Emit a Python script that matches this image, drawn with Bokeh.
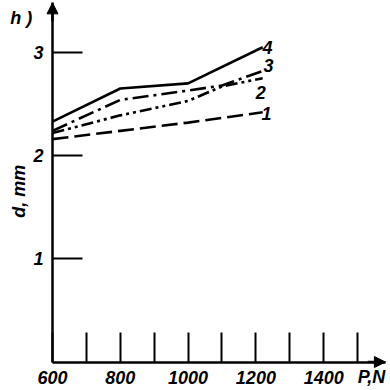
import math
from bokeh.plotting import figure
from bokeh.models import Range1d, FixedTicker, Arrow, NormalHead
from bokeh.core.properties import value
from bokeh.embed import file_html
from bokeh.resources import INLINE

# ---- data ----
p1_x = [600, 800, 1000, 1220]
d1 = [2.16, 2.24, 2.32, 2.42]
p2_x = [600, 800, 1000, 1100, 1220]
d2 = [2.22, 2.39, 2.53, 2.67, 2.75]
p3_x = [600, 800, 1000, 1100, 1220]
d3 = [2.24, 2.54, 2.63, 2.68, 2.82]
p4_x = [600, 800, 1000, 1220]
d4 = [2.33, 2.65, 2.70, 3.05]

curve_labels = ["1", "2", "3", "4"]
x_ticks = [600, 700, 800, 900, 1000, 1100, 1200, 1300, 1400, 1500]
x_tick_labels = {600: "600", 800: "800", 1000: "1000", 1200: "1200", 1400: "1400"}
y_ticks = [1, 2, 3]

FONT = "Liberation Sans"
STYLE = "bold italic"
FS = "18px"

p = figure(width=390, height=390, output_backend="svg", toolbar_location=None,
           x_range=Range1d(446.6, 1597.1), y_range=Range1d(-0.276, 3.503),
           min_border_left=0, min_border_right=0, min_border_top=0, min_border_bottom=0)
p.outline_line_color = None
p.xgrid.visible = False
p.ygrid.visible = False
p.background_fill_color = "white"
p.border_fill_color = "white"

# x axis
xa = p.xaxis[0]
xa.fixed_location = 0
xa.bounds = (600, 1582)
xa.ticker = FixedTicker(ticks=x_ticks)
xa.major_label_overrides = {t: x_tick_labels.get(t, "") for t in x_ticks}
xa.major_tick_in = 30
xa.major_tick_out = 0
xa.minor_tick_line_color = None
xa.axis_line_width = 2.5
xa.major_tick_line_width = 2
xa.major_label_standoff = 9
xa.major_label_text_font = FONT
xa.major_label_text_font_style = STYLE
xa.major_label_text_font_size = FS
xa.major_label_text_color = "black"

# y axis
ya = p.yaxis[0]
ya.fixed_location = 600
ya.bounds = (0, 3.48)
ya.ticker = FixedTicker(ticks=y_ticks)
ya.major_tick_in = 30
ya.major_tick_out = 0
ya.minor_tick_line_color = None
ya.axis_line_width = 2.5
ya.major_tick_line_width = 2
ya.major_label_standoff = 9
ya.major_label_text_font = FONT
ya.major_label_text_font_style = STYLE
ya.major_label_text_font_size = FS
ya.major_label_text_color = "black"

# arrow heads on axes
p.add_layout(Arrow(end=NormalHead(size=11, fill_color="black", line_color="black"),
                   x_start=600, y_start=3.3, x_end=600, y_end=3.48, line_width=2.5))
p.add_layout(Arrow(end=NormalHead(size=11, fill_color="black", line_color="black"),
                   x_start=1530, y_start=0, x_end=1582, y_end=0, line_width=2.5))

# curves
p.line(p1_x, d1, line_color="black", line_width=2.6, line_dash="16 6")
p.line(p2_x, d2, line_color="black", line_width=2.6, line_dash="12 4 3 4 3 4")
p.line(p3_x, d3, line_color="black", line_width=2.6, line_dash="16 5 3 5")
p.line(p4_x, d4, line_color="black", line_width=2.6)

# curve labels
p.text(x=[1231, 1214, 1237, 1234], y=[2.41, 2.61, 2.87, 3.05], text=curve_labels,
       text_font=value(FONT), text_font_style=STYLE, text_font_size=FS,
       text_align="center", text_baseline="middle", text_color="black")

# other texts
p.text(x=[508], y=[3.33], text=["h )"], text_font=value(FONT), text_font_style=STYLE,
       text_font_size=FS, text_align="center", text_baseline="middle", text_color="black")
p.text(x=[500], y=[1.68], text=["d,  mm"], angle=math.pi / 2, text_font=value(FONT),
       text_font_style=STYLE, text_font_size=FS, text_align="center",
       text_baseline="middle", text_color="black")
p.text(x=[1541], y=[-0.15], text=["P,N"], text_font=value(FONT), text_font_style=STYLE,
       text_font_size=FS, text_align="center", text_baseline="middle", text_color="black")

open("out.html", "w").write(file_html(p, INLINE))
